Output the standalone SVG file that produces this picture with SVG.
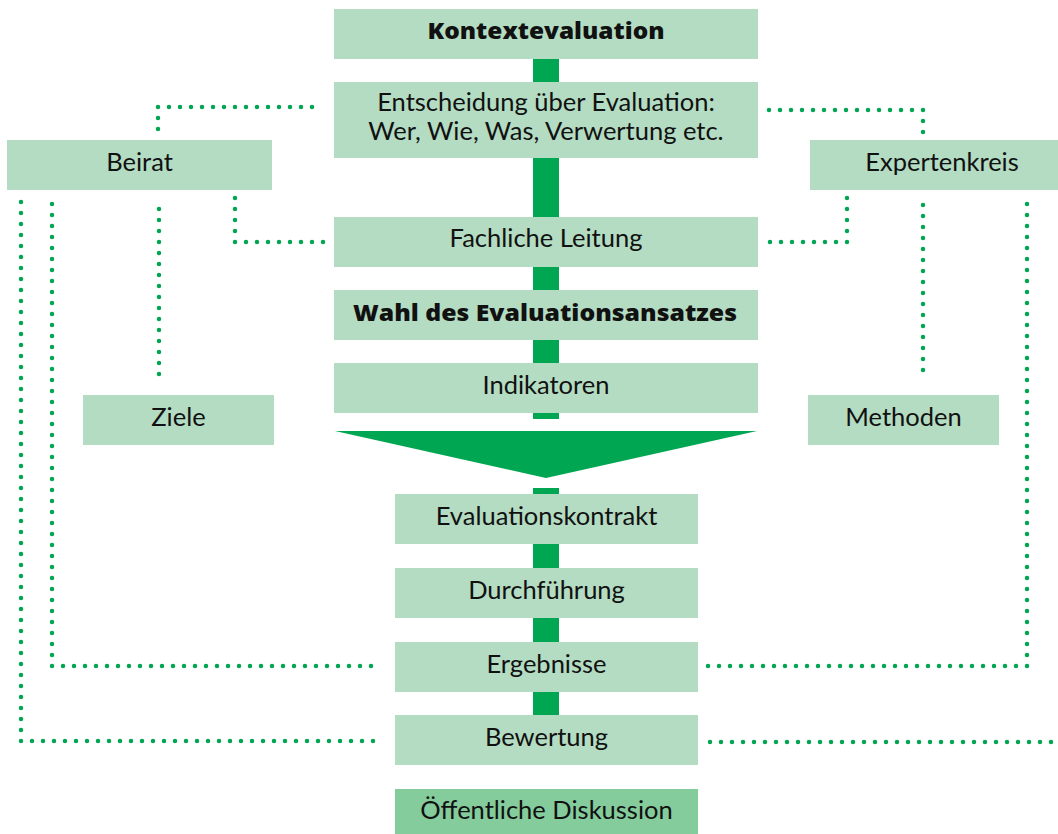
<svg xmlns="http://www.w3.org/2000/svg" width="1058" height="834" viewBox="0 0 1058 834">
<style>
.box{fill:#b3dcc2}
.box2{fill:#84cc9c}
.spine{fill:#00a651}
.t{font-family:Lato,"Open Sans","Liberation Sans",sans-serif;font-size:25.5px;fill:#111;text-anchor:middle}
.b{font-family:"Open Sans",Lato,"Liberation Sans",sans-serif;font-weight:800;font-size:22px}
.dot{fill:none;stroke:#00a651;stroke-width:4.5;stroke-linecap:round;stroke-dasharray:0 11}
</style>
<rect width="1058" height="834" fill="#fff"/>
<g id="spine">
<rect class="spine" x="533" y="59" width="26" height="23"/>
<rect class="spine" x="533" y="158" width="26" height="59"/>
<rect class="spine" x="533" y="267" width="26" height="23"/>
<rect class="spine" x="533" y="340" width="26" height="23"/>
<rect class="spine" x="533" y="413" width="26" height="6"/>
<polygon class="spine" points="335,431 757,431 546,478"/>
<rect class="spine" x="533" y="488" width="26" height="6"/>
<rect class="spine" x="533" y="544" width="26" height="24"/>
<rect class="spine" x="533" y="618" width="26" height="24"/>
<rect class="spine" x="533" y="692" width="26" height="23"/>
</g>
<g id="connectors">
<path class="dot" d="M158,129 V107 H314"/>
<path class="dot" d="M769,110 H923 V133"/>
<path class="dot" d="M235,198 V242 H324"/>
<path class="dot" d="M847,198 V242 H767"/>
<path class="dot" d="M159,209 V375"/>
<path class="dot" d="M923,205 V371"/>
<path class="dot" d="M21,202 V741 H380"/>
<path class="dot" d="M52,204 V666 H377"/>
<path class="dot" d="M1027,204 V666 H706"/>
<path class="dot" d="M710,742 H1058"/>
</g>
<g id="kontextevaluation"><rect class="box" x="334" y="9" width="424" height="50"/><text class="t b" x="546" y="39" textLength="237" lengthAdjust="spacingAndGlyphs">Kontextevaluation</text></g>
<g id="entscheidung"><rect class="box" x="334" y="82" width="424" height="76"/><text class="t" x="546" y="111">Entscheidung über Evaluation:</text><text class="t" x="546" y="140">Wer, Wie, Was, Verwertung etc.</text></g>
<g id="beirat"><rect class="box" x="7" y="140" width="265" height="50"/><text class="t" x="139.5" y="171">Beirat</text></g>
<g id="expertenkreis"><rect class="box" x="810" y="140" width="265" height="50"/><text class="t" x="942" y="171">Expertenkreis</text></g>
<g id="fachliche-leitung"><rect class="box" x="334" y="217" width="424" height="50"/><text class="t" x="546" y="247">Fachliche Leitung</text></g>
<g id="wahl"><rect class="box" x="334" y="290" width="424" height="50"/><text class="t b" x="545" y="321" textLength="384" lengthAdjust="spacingAndGlyphs">Wahl des Evaluationsansatzes</text></g>
<g id="indikatoren"><rect class="box" x="334" y="363" width="424" height="50"/><text class="t" x="546" y="394">Indikatoren</text></g>
<g id="ziele"><rect class="box" x="83" y="395" width="191" height="50"/><text class="t" x="178.5" y="426">Ziele</text></g>
<g id="methoden"><rect class="box" x="808" y="395" width="191" height="50"/><text class="t" x="903.5" y="426">Methoden</text></g>
<g id="evaluationskontrakt"><rect class="box" x="395" y="494" width="303" height="50"/><text class="t" x="546.5" y="525">Evaluationskontrakt</text></g>
<g id="durchfuehrung"><rect class="box" x="395" y="568" width="303" height="50"/><text class="t" x="546.5" y="599">Durchführung</text></g>
<g id="ergebnisse"><rect class="box" x="395" y="642" width="303" height="50"/><text class="t" x="546.5" y="673">Ergebnisse</text></g>
<g id="bewertung"><rect class="box" x="395" y="715" width="303" height="50"/><text class="t" x="546.5" y="746">Bewertung</text></g>
<g id="oeffentliche-diskussion"><rect class="box2" x="395" y="789" width="303" height="46"/><text class="t" x="546.5" y="819">Öffentliche Diskussion</text></g>
</svg>
